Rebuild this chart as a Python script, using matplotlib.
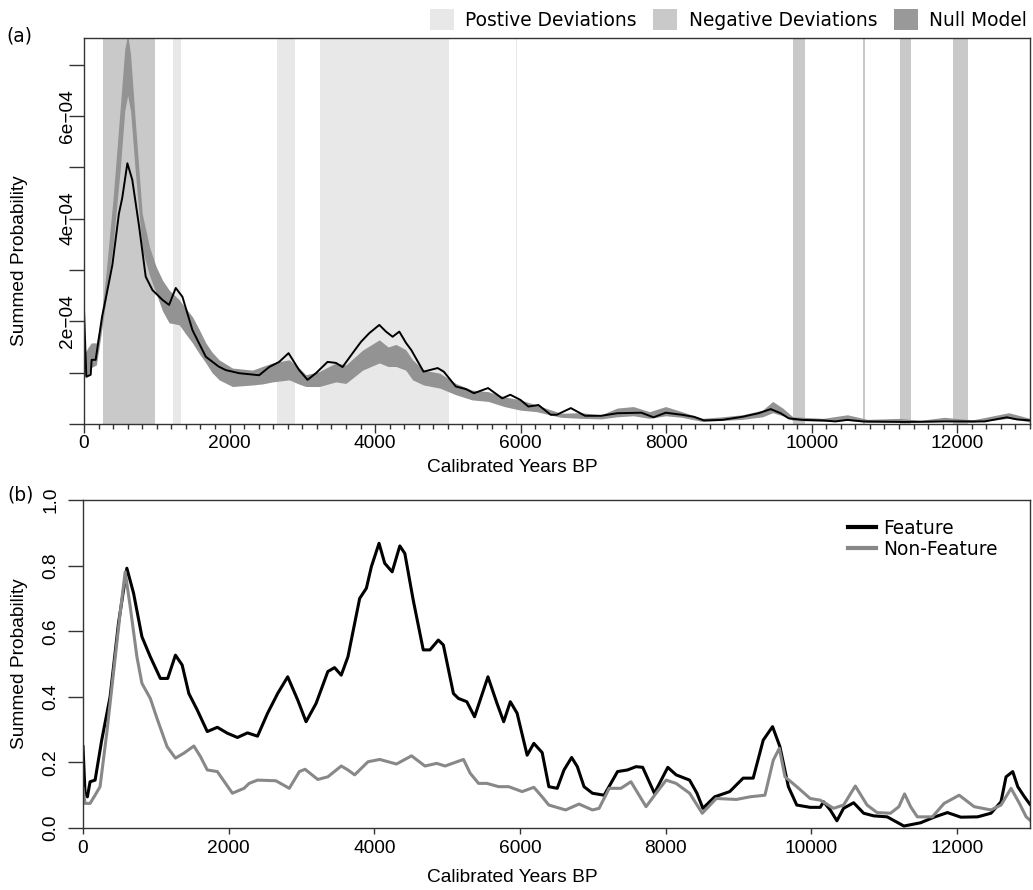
import matplotlib
matplotlib.use("Agg")
import matplotlib.pyplot as plt
from matplotlib.patches import Patch
from matplotlib.lines import Line2D

# ---- data ----
# panel (a): observed SPD (x1e-4)
obs_years = [0, 32, 92, 105, 160, 248, 300, 390, 480, 525, 596, 663, 757, 848, 940,
             1077, 1169, 1261, 1352, 1490, 1674, 1850, 1949, 2132, 2407, 2545, 2682,
             2811, 2957, 3072, 3187, 3347, 3462, 3553, 3691, 3806, 3920, 4058, 4150,
             4241, 4333, 4425, 4498, 4666, 4860, 4944, 5110, 5248, 5359, 5553, 5747,
             5858, 5997, 6107, 6245, 6413, 6497, 6690, 6885, 7106, 7327, 7660, 7827,
             7993, 8216, 8382, 8520, 8770, 9047, 9270, 9436, 9574, 9685, 9879, 10157,
             10323, 10490, 10711, 11266, 11821, 12376, 12681, 12819, 13000]
obs_spd = [2.22, 0.92, 0.96, 1.25, 1.25, 2.09, 2.45, 3.1, 4.1, 4.4, 5.08, 4.76, 3.85,
           2.87, 2.61, 2.42, 2.32, 2.65, 2.48, 1.83, 1.31, 1.12, 1.05, 0.99, 0.95, 1.11,
           1.21, 1.38, 1.05, 0.86, 0.99, 1.21, 1.19, 1.11, 1.38, 1.6, 1.77, 1.93, 1.8,
           1.7, 1.8, 1.58, 1.44, 1.02, 1.09, 1.02, 0.73, 0.68, 0.60, 0.70, 0.50, 0.57,
           0.47, 0.34, 0.37, 0.18, 0.18, 0.31, 0.16, 0.16, 0.21, 0.22, 0.13, 0.22, 0.18,
           0.14, 0.07, 0.08, 0.14, 0.21, 0.29, 0.21, 0.11, 0.08, 0.07, 0.05, 0.08, 0.05,
           0.04, 0.05, 0.05, 0.13, 0.09, 0.07]

# null model envelope (x1e-4)
null_years = [0, 60, 100, 170, 230, 300, 400, 500, 560, 600, 640, 700, 800, 900, 990,
              1080, 1170, 1250, 1310, 1400, 1490, 1580, 1674, 1760, 1857, 2040, 2316,
              2450, 2591, 2820, 2950, 3049, 3232, 3462, 3599, 3829, 4058, 4180, 4287,
              4420, 4516, 4666, 4888, 5110, 5332, 5553, 5775, 5997, 6219, 6551, 6828,
              7106, 7327, 7549, 7771, 7993, 8216, 8493, 8770, 9047, 9325, 9464, 9602,
              9741, 10157, 10490, 10767, 11210, 11488, 11821, 12210, 12709, 13000]
null_lo = [0.95, 0.95, 1.1, 1.15, 1.7, 2.4, 3.5, 5.0, 6.1, 6.4, 6.1, 5.0, 3.4, 2.9, 2.55,
           2.2, 1.97, 1.95, 1.93, 1.75, 1.58, 1.38, 1.19, 1.0, 0.86, 0.73, 0.76, 0.78,
           0.82, 0.86, 0.78, 0.73, 0.73, 0.82, 0.79, 1.05, 1.19, 1.12, 1.12, 1.05, 0.86,
           0.76, 0.70, 0.57, 0.47, 0.44, 0.34, 0.27, 0.24, 0.13, 0.11, 0.10, 0.14, 0.16,
           0.11, 0.16, 0.13, 0.05, 0.07, 0.09, 0.14, 0.22, 0.16, 0.07, 0.05, 0.07, 0.03,
           0.04, 0.03, 0.05, 0.03, 0.11, 0.04]
null_hi = [1.35, 1.5, 1.58, 1.58, 2.0, 2.9, 4.4, 6.2, 7.3, 7.6, 7.2, 6.0, 4.1, 3.45, 3.07,
           2.8, 2.61, 2.5, 2.42, 2.25, 2.09, 1.85, 1.58, 1.4, 1.25, 1.09, 1.05, 1.12,
           1.19, 1.25, 1.1, 0.96, 1.02, 1.19, 1.15, 1.44, 1.64, 1.5, 1.55, 1.45, 1.25,
           1.05, 0.99, 0.79, 0.66, 0.63, 0.53, 0.47, 0.37, 0.21, 0.22, 0.18, 0.31, 0.34,
           0.24, 0.34, 0.24, 0.11, 0.14, 0.18, 0.27, 0.44, 0.31, 0.14, 0.11, 0.18, 0.09,
           0.11, 0.07, 0.13, 0.08, 0.22, 0.11]

pos_dev = [(1224, 1334), (2655, 2900), (3246, 5020), (5930, 5950)]
neg_dev = [(261, 977), (9739, 9904), (10700, 10730), (11210, 11360), (11940, 12150)]

# panel (b)
feat_years = [0, 28, 60, 97, 166, 257, 372, 487, 602, 694, 809, 924, 1062, 1163, 1269,
              1361, 1453, 1568, 1706, 1844, 1982, 2120, 2258, 2396, 2534, 2672, 2810,
              2948, 3062, 3200, 3361, 3453, 3545, 3637, 3798, 3890, 3959, 4064, 4142,
              4244, 4349, 4418, 4533, 4671, 4763, 4878, 4947, 5085, 5154, 5269, 5375,
              5559, 5683, 5775, 5866, 5959, 6097, 6189, 6303, 6395, 6510, 6603, 6708,
              6786, 6878, 6993, 7154, 7338, 7476, 7591, 7683, 7844, 8028, 8142, 8258,
              8327, 8428, 8510, 8671, 8878, 9062, 9200, 9338, 9466, 9567, 9683, 9798,
              9982, 10120, 10166, 10258, 10349, 10441, 10579, 10717, 10855, 11039,
              11269, 11499, 11683, 11866, 12051, 12280, 12464, 12602, 12671, 12763,
              12832, 12924, 13000]
feat_spd = [0.248, 0.106, 0.095, 0.141, 0.146, 0.268, 0.40, 0.624, 0.792, 0.716, 0.583,
            0.522, 0.456, 0.456, 0.527, 0.497, 0.41, 0.36, 0.294, 0.307, 0.289, 0.276,
            0.29, 0.28, 0.35, 0.41, 0.461, 0.39, 0.324, 0.38, 0.477, 0.489, 0.466, 0.522,
            0.70, 0.731, 0.797, 0.868, 0.807, 0.781, 0.86, 0.837, 0.695, 0.543, 0.543,
            0.573, 0.558, 0.41, 0.395, 0.385, 0.339, 0.461, 0.38, 0.324, 0.385, 0.35,
            0.222, 0.258, 0.23, 0.126, 0.121, 0.177, 0.215, 0.187, 0.126, 0.106, 0.10,
            0.172, 0.177, 0.187, 0.185, 0.106, 0.185, 0.162, 0.152, 0.146, 0.106, 0.06,
            0.095, 0.111, 0.152, 0.152, 0.268, 0.309, 0.248, 0.126, 0.07, 0.063, 0.063,
            0.08, 0.055, 0.022, 0.06, 0.077, 0.045, 0.037, 0.034, 0.006, 0.016, 0.033,
            0.047, 0.033, 0.034, 0.045, 0.08, 0.156, 0.172, 0.126, 0.095, 0.072]

nonf_years = [0, 28, 97, 166, 234, 326, 418, 510, 579, 648, 740, 809, 924, 1016, 1154,
              1269, 1384, 1522, 1614, 1706, 1844, 2051, 2211, 2280, 2396, 2648, 2832,
              2970, 3048, 3223, 3361, 3545, 3637, 3729, 3913, 4073, 4303, 4510, 4694,
              4855, 4970, 5223, 5315, 5430, 5545, 5706, 5844, 6028, 6189, 6303, 6395,
              6625, 6809, 6993, 7085, 7223, 7384, 7522, 7729, 7867, 8005, 8142, 8327,
              8501, 8694, 8970, 9154, 9361, 9476, 9559, 9637, 9798, 9982, 10120, 10303,
              10441, 10602, 10763, 10901, 11085, 11200, 11278, 11361, 11453, 11660,
              11821, 12028, 12234, 12464, 12602, 12740, 12855, 12947, 13000]
nonf_spd = [0.12, 0.075, 0.075, 0.10, 0.126, 0.289, 0.472, 0.655, 0.781, 0.675, 0.522,
            0.441, 0.395, 0.334, 0.248, 0.213, 0.228, 0.25, 0.217, 0.177, 0.172, 0.106,
            0.121, 0.136, 0.146, 0.144, 0.121, 0.172, 0.179, 0.148, 0.156, 0.189, 0.177,
            0.162, 0.202, 0.209, 0.195, 0.22, 0.189, 0.197, 0.189, 0.209, 0.167, 0.136,
            0.136, 0.126, 0.126, 0.111, 0.124, 0.095, 0.07, 0.055, 0.073, 0.055, 0.06,
            0.121, 0.121, 0.141, 0.065, 0.106, 0.146, 0.136, 0.106, 0.045, 0.09, 0.087,
            0.095, 0.10, 0.207, 0.243, 0.156, 0.126, 0.09, 0.085, 0.06, 0.07, 0.128,
            0.07, 0.047, 0.045, 0.065, 0.104, 0.065, 0.034, 0.034, 0.075, 0.10, 0.065,
            0.055, 0.07, 0.121, 0.075, 0.034, 0.024]

# ---- drawing ----
W, H = 1033, 890
TICKFONT = "Liberation Sans"
TXTFONT = "DejaVu Sans"
POS_C, NEG_C, NULL_C = "#e8e8e8", "#c9c9c9", "#939393"
SPINE_C = "#333333"

fig = plt.figure(figsize=(W / 100, H / 100), dpi=100)

def style_axes(ax):
    for s in ax.spines.values():
        s.set_color(SPINE_C)
        s.set_linewidth(1.0)
    for lab in ax.get_xticklabels() + ax.get_yticklabels():
        lab.set_fontfamily(TICKFONT)
        lab.set_fontsize(13.8)
    ax.set_xlim(0, 13000)

# panel (a)
ax1 = fig.add_axes([84 / W, 1 - 424 / H, (1030 - 84) / W, (424 - 38) / H])
for a, b in pos_dev:
    ax1.axvspan(a, b, color=POS_C, lw=0, zorder=0)
for a, b in neg_dev:
    ax1.axvspan(a, b, color=NEG_C, lw=0, zorder=0)
ax1.fill_between(null_years, [v * 1e-4 for v in null_lo], [v * 1e-4 for v in null_hi],
                 color=NULL_C, lw=0, zorder=1)
ax1.plot(obs_years, [v * 1e-4 for v in obs_spd], color="black", lw=1.4, zorder=2)
ax1.set_ylim(0, 7.52e-4)
ax1.set_xticks(range(0, 13001, 2000))
ax1.set_xticks(range(0, 13001, 200), minor=True)
yt = [i * 1e-4 for i in range(8)]
ax1.set_yticks(yt)
ax1.set_yticklabels(["", "", "2e\u221204", "", "4e\u221204", "", "6e\u221204", ""],
                    rotation=90, va="center")
ax1.tick_params(axis="x", which="major", length=6.5, width=1, color=SPINE_C, pad=1.2)
ax1.tick_params(axis="x", which="minor", length=3.5, width=1, color=SPINE_C)
ax1.tick_params(axis="y", length=10.5, width=1, color=SPINE_C, pad=-5)
style_axes(ax1)

leg_handles = [Patch(facecolor=POS_C, edgecolor="none"),
               Patch(facecolor=NEG_C, edgecolor="none"),
               Patch(facecolor="#999999", edgecolor="none")]
fig.legend(leg_handles, ["Postive Deviations", "Negative Deviations", "Null Model"],
           loc="center right", bbox_to_anchor=(1027 / W, 1 - 19.5 / H), ncol=3,
           frameon=False, prop={"family": TXTFONT, "size": 13.4},
           handlelength=1.3, handleheight=1.3, handletextpad=0.6,
           columnspacing=0.9, borderpad=0, borderaxespad=0)

# panel (b)
ax2 = fig.add_axes([83 / W, 1 - 828 / H, (1030 - 83) / W, (828 - 500) / H])
ax2.plot(feat_years, feat_spd, color="black", lw=2.2, label="Feature")
ax2.plot(nonf_years, nonf_spd, color="#888888", lw=2.2, label="Non-Feature")
ax2.set_ylim(0, 1.0)
ax2.set_xticks(range(0, 13001, 2000))
ax2.set_yticks([0, 0.2, 0.4, 0.6, 0.8, 1.0])
ax2.set_yticklabels(["0.0", "0.2", "0.4", "0.6", "0.8", "1.0"], rotation=90, va="center")
ax2.tick_params(axis="x", length=4.5, width=1, color=SPINE_C, pad=4)
ax2.tick_params(axis="y", length=10.5, width=1, color=SPINE_C, pad=6.5)
style_axes(ax2)
ax2.legend(handles=[Line2D([], [], color="black", lw=3), Line2D([], [], color="#888888", lw=3)],
           labels=["Feature", "Non-Feature"], loc="upper left",
           bbox_to_anchor=(848 / W, 1 - 519 / H), bbox_transform=fig.transFigure,
           frameon=False, prop={"family": TXTFONT, "size": 13.4},
           handlelength=1.5, handletextpad=0.4, labelspacing=0.1,
           borderpad=0, borderaxespad=0)

# axis titles and panel letters
for yc in (468, 878):
    fig.text(512 / W, 1 - yc / H, "Calibrated Years BP", ha="center", va="center",
             family=TICKFONT, fontsize=13.8)
for yc in (261, 664):
    fig.text(19.5 / W, 1 - yc / H, "Summed Probability", ha="center", va="center",
             rotation=90, family=TICKFONT, fontsize=13.8)
fig.text(6 / W, 1 - 36 / H, "(a)", ha="left", va="center", family=TXTFONT, fontsize=13.4)
fig.text(7 / W, 1 - 495 / H, "(b)", ha="left", va="center", family=TXTFONT, fontsize=13.4)

fig.savefig("out.png", dpi=100)
